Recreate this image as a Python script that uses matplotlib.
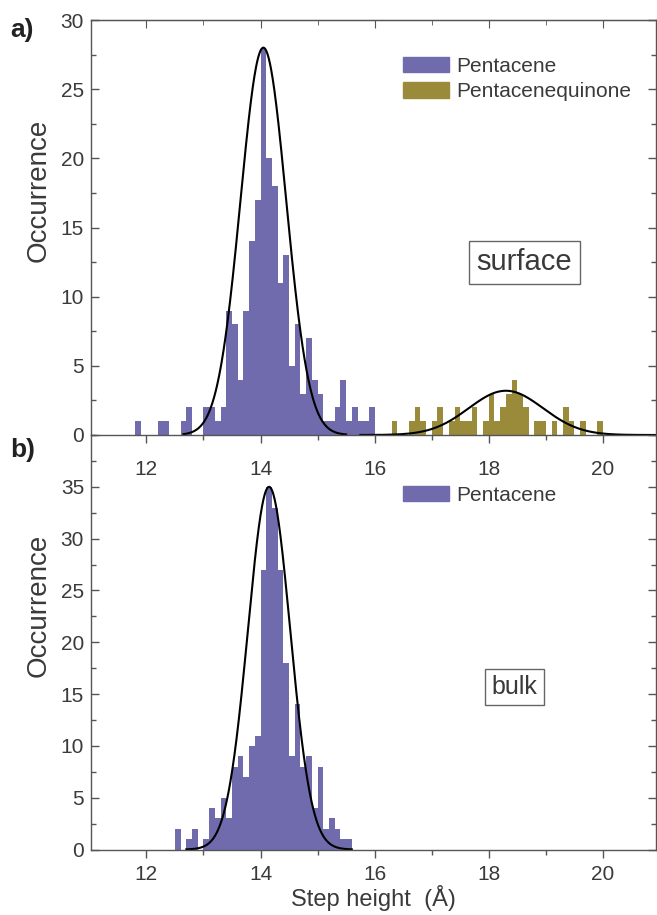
import numpy as np
import matplotlib
matplotlib.use("Agg")
import matplotlib.pyplot as plt
from matplotlib.patches import Patch
from matplotlib.ticker import MultipleLocator

plt.rcParams["font.family"] = ["Liberation Sans", "DejaVu Sans"]

# histogram data, bin width 0.1 A, counts for consecutive bins from the start edge
BIN_W = 0.1
surf_pent_start = 11.8
surf_pent_counts = [1, 0, 0, 0, 1, 1, 0, 0, 1, 2, 0, 0,
                    2, 2, 1, 2, 9, 8, 4, 9, 14, 17,
                    28, 20, 18, 11, 13, 5, 8, 3, 7, 4,
                    3, 1, 1, 2, 4, 1, 2, 1, 1, 2]
surf_quin_start = 16.3
surf_quin_counts = [1, 0, 0, 1, 2, 1, 0,
                    1, 2, 0, 1, 2, 1, 1, 2, 0, 1,
                    3, 1, 2, 3, 4, 3, 2, 0, 1, 1,
                    0, 1, 0, 2, 1, 0, 1, 0, 0, 1]
bulk_pent_start = 12.5
bulk_pent_counts = [2, 0, 1, 2, 0,
                    1, 4, 3, 5, 3, 8, 9, 7, 10, 11,
                    27, 35, 33, 27, 18, 9, 14, 8, 9, 4,
                    8, 2, 3, 2, 1, 1]

# gaussian fits: amplitude, centre, sigma, drawn range
fit_surf_pent = (28.0, 14.05, 0.40, 12.65, 15.5)
fit_surf_quin = (3.2, 18.3, 0.65, 15.75, 20.95)
fit_bulk_pent = (35.0, 14.15, 0.37, 12.7, 15.6)

xticks = [12, 14, 16, 18, 20]
labels_surf = ["Pentacene", "Pentacenequinone"]
labels_bulk = ["Pentacene"]

C_PENT = "#6f6bad"
C_QUIN = "#9a8b3a"
C_AX = "#555555"
C_TXT = "#3a3a3a"

W, H = 657, 915
fig = plt.figure(figsize=(W / 100, H / 100), dpi=100)


def fx(px):
    return px / W


def fy(py):
    return 1 - py / H


left, right = fx(91), fx(656)
ax2 = fig.add_axes([left, fy(849.5), right - left, fy(435) - fy(849.5)])
ax1 = fig.add_axes([left, fy(435), right - left, fy(20) - fy(435)])
ax2.patch.set_visible(False)
ax1.patch.set_visible(False)


def hist(ax, start, counts, color):
    edges = start + BIN_W * np.arange(len(counts))
    ax.bar(edges, counts, width=BIN_W, align="edge", color=color, linewidth=0)


def gauss(ax, fit):
    a, mu, s, lo, hi = fit
    x = np.linspace(lo, hi, 400)
    ax.plot(x, a * np.exp(-(x - mu) ** 2 / (2 * s ** 2)), color="black", lw=1.5)


hist(ax1, surf_pent_start, surf_pent_counts, C_PENT)
hist(ax1, surf_quin_start, surf_quin_counts, C_QUIN)
gauss(ax1, fit_surf_pent)
gauss(ax1, fit_surf_quin)

hist(ax2, bulk_pent_start, bulk_pent_counts, C_PENT)
gauss(ax2, fit_bulk_pent)

for ax in (ax1, ax2):
    ax.set_xlim(11.03, 20.93)
    ax.set_xticks(xticks)
    ax.xaxis.set_minor_locator(MultipleLocator(1))
    ax.yaxis.set_minor_locator(MultipleLocator(2.5))
    for sp in ax.spines.values():
        sp.set_color(C_AX)
        sp.set_linewidth(1.0)
    ax.tick_params(axis="x", which="both", direction="out", colors=C_AX,
                   labelcolor=C_TXT, labelsize=15, pad=5)
    ax.tick_params(axis="y", which="both", direction="in", left=True, right=True,
                   colors=C_AX, labelcolor=C_TXT, labelsize=15, pad=5)
    ax.tick_params(which="major", length=6, width=1)
    ax.tick_params(which="minor", length=3.5, width=1)

ax1.tick_params(axis="x", pad=12)
ax1.set_ylim(0, 30)
ax1.set_yticks(range(0, 31, 5))
sec = ax1.secondary_xaxis("top")
sec.set_xticks(xticks)
sec.set_xticklabels([])
sec.xaxis.set_minor_locator(MultipleLocator(1))
sec.tick_params(which="both", direction="in", colors=C_AX)
sec.tick_params(which="major", length=6)
sec.tick_params(which="minor", length=3.5)
sec.spines["top"].set_color(C_AX)

ax2.set_ylim(0, 40)
ax2.set_yticks(range(0, 36, 5))
ax2.spines["top"].set_visible(False)
ax2.set_xlabel("Step height  (\u00c5)", fontsize=17, color=C_TXT, labelpad=1)

fig.text(fx(39), fy(190), "Occurrence", rotation=90, ha="center", va="center",
         fontsize=20, color=C_TXT)
fig.text(fx(39), fy(605), "Occurrence", rotation=90, ha="center", va="center",
         fontsize=20, color=C_TXT)

fig.text(fx(10), fy(30), "a)", fontsize=19, fontweight="bold", va="center", color="#222222")
fig.text(fx(10), fy(450), "b)", fontsize=19, fontweight="bold", va="center", color="#222222")

leg_kw = dict(frameon=False, fontsize=15, handlelength=2.2, handleheight=0.75,
              handletextpad=0.35, labelspacing=0.3, borderpad=0, borderaxespad=0,
              loc="upper left", labelcolor=C_TXT)
ax1.legend([Patch(color=C_PENT), Patch(color=C_QUIN)], labels_surf,
           bbox_to_anchor=(0.552, 0.911), **leg_kw)
ax2.legend([Patch(color=C_PENT)], labels_bulk,
           bbox_to_anchor=(0.552, 0.878), **leg_kw)

box = dict(boxstyle="square,pad=0.25", fc="white", ec="#666666", lw=1.0)
fig.text(fx(524.5), fy(262.5), "surface", fontsize=21, ha="center", va="center",
         color=C_TXT, bbox=box)
fig.text(fx(514.5), fy(687), "bulk", fontsize=18, ha="center", va="center",
         color=C_TXT, bbox=box)

fig.savefig("out.png", dpi=100)
